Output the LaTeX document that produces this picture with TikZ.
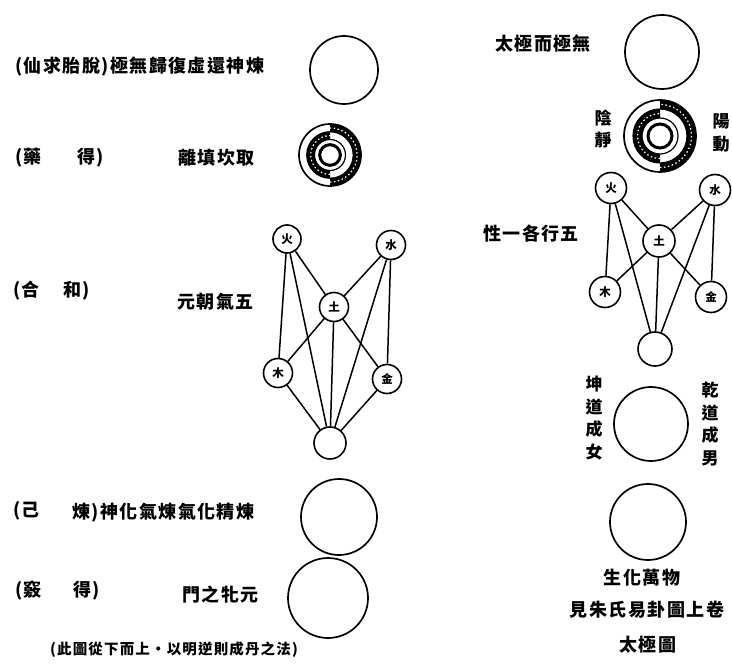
\documentclass[tikz,border=0pt]{standalone}
\usepackage{fontspec}
\newfontfamily\cjk[LetterSpace=8]{Noto Sans CJK TC}
\newfontfamily\cjkel{Noto Sans CJK TC}
\begin{document}
\begin{tikzpicture}[x=1pt,y=-1pt,
  lbl/.style={font=\cjk\bfseries\fontsize{18}{20}\selectfont, inner sep=0pt},
  small/.style={font=\cjk\bfseries\fontsize{14.5}{16}\selectfont, inner sep=0pt},
  vtext/.style={font=\cjk\bfseries\fontsize{17}{22.5}\selectfont, inner sep=0pt, align=center},
  el/.style={circle, draw, line width=1.6pt, minimum size=#1, inner sep=0pt, font=\cjkel\bfseries\fontsize{11.5}{12}\selectfont},
  el/.default=29pt,
  bigc/.style={circle, draw, line width=1.7pt, inner sep=0pt, minimum size=#1},
  ln/.style={line width=1.5pt},
  yy/.pic={
    \fill[white] (0,0) circle (36);
    \fill[black] (0,36) arc (90:-90:36) -- (0,-27) arc (-90:90:27) -- cycle;
    \draw[white, line width=1.2pt, dash pattern=on 1.5pt off 2.5pt] (0,31.5) arc (90:-90:31.5);
    \fill[black] (0,27) arc (90:270:27) -- (0,-18) arc (270:90:18) -- cycle;
    \draw[white, line width=1.2pt, dash pattern=on 1.5pt off 2.5pt] (0,22.5) arc (90:270:22.5);
    \draw[line width=1.7pt] (0,0) circle (36);
    \draw[line width=1.2pt] (0,0) circle (27);
    \draw[line width=1.2pt] (0,0) circle (18);
    \draw[line width=3pt] (0,0) circle (12);
  }]
\useasboundingbox (0,0) rectangle (732,671);
\fill[white] (0,0) rectangle (732,671);

% ---------------- left column ----------------
\node[lbl, anchor=west] (t1) at (15,67) {(仙求胎脫)極無歸復虛還神煉};
\node[bigc=68pt] (c1) at (344,70) {};

\node[lbl, anchor=west] (t2a) at (15,158) {(藥};
\node[lbl, anchor=west] (t2b) at (77,158) {得)};
\node[lbl, anchor=west] (t2c) at (178,158) {離填坎取};
\coordinate (yl) at (330,155);
\pic[scale=31/36] at (yl) {yy};

\node[lbl, anchor=west] (t3a) at (13,291) {(合};
\node[lbl, anchor=west] (t3b) at (63,291) {和)};
\node[lbl, anchor=west] (t3c) at (177,302) {元朝氣五};

\node[el=28pt] (lfire) at (287,239) {火};
\node[el] (lwater) at (391,245) {水};
\node[el] (learth) at (334,307) {土};
\node[el] (lwood) at (278,373) {木};
\node[el] (lmetal) at (387,379) {金};
\node[el=32pt] (lbot) at (330,443) {};
\draw[ln] (lfire) -- (lwood);
\draw[ln] (lfire) -- (learth);
\draw[ln] (lfire) -- (lbot);
\draw[ln] (lwater) -- (learth);
\draw[ln] (lwater) -- (lmetal);
\draw[ln] (lwater) -- (lbot);
\draw[ln] (learth) -- (lwood);
\draw[ln] (learth) -- (lmetal);
\draw[ln] (learth) -- (lbot);
\draw[ln] (lwood) -- (lbot);
\draw[ln] (lmetal) -- (lbot);

\node[lbl, anchor=west] (t4a) at (13,511) {(己};
\node[lbl, anchor=west] (t4b) at (72,513) {煉)神化氣煉氣化精煉};
\node[bigc=76pt] (c4) at (339,517) {};

\node[lbl, anchor=west] (t5a) at (15,591) {(竅};
\node[lbl, anchor=west] (t5b) at (73,591) {得)};
\node[lbl, anchor=west] (t5c) at (182,595) {門之牝元};
\node[bigc=80pt] (c5) at (328,598) {};

\node[small, anchor=west] (t6) at (50,650) {(此圖從下而上・以明逆則成丹之法)};

% ---------------- right column ----------------
\node[lbl, anchor=west] (r1) at (495,44) {太極而極無};
\node[bigc=74pt] (rc1) at (662,52) {};

\node[vtext] (r2a) at (603,129) {陰\\靜};
\node[vtext] (r2b) at (721,133) {陽\\動};
\coordinate (yr) at (660,136);
\pic at (yr) {yy};

\node[lbl, anchor=west] (r3) at (483,234) {性一各行五};
\node[el=31pt] (rfire) at (611,188) {火};
\node[el=31pt] (rwater) at (715,190) {水};
\node[el=32pt] (rearth) at (659,241) {土};
\node[el=31pt] (rwood) at (605,292) {木};
\node[el=31pt] (rmetal) at (711,297) {金};
\node[el=34pt] (rbot) at (655,349) {};
\draw[ln] (rfire) -- (rwood);
\draw[ln] (rfire) -- (rearth);
\draw[ln] (rfire) -- (rbot);
\draw[ln] (rwater) -- (rearth);
\draw[ln] (rwater) -- (rmetal);
\draw[ln] (rwater) -- (rbot);
\draw[ln] (rearth) -- (rwood);
\draw[ln] (rearth) -- (rmetal);
\draw[ln] (rearth) -- (rbot);

\node[vtext] (r4a) at (594,418) {坤\\道\\成\\女};
\node[vtext] (r4b) at (710,424) {乾\\道\\成\\男};
\node[bigc=74pt] (rc4) at (651,424) {};

\node[bigc=76pt] (rc5) at (648,522) {};
\node[lbl] (r5) at (642,578) {生化萬物};
\node[lbl] (r6) at (647,610) {見朱氏易卦圖上卷};
\node[lbl] (r7) at (648,645) {太極圖};
\end{tikzpicture}
\end{document}
